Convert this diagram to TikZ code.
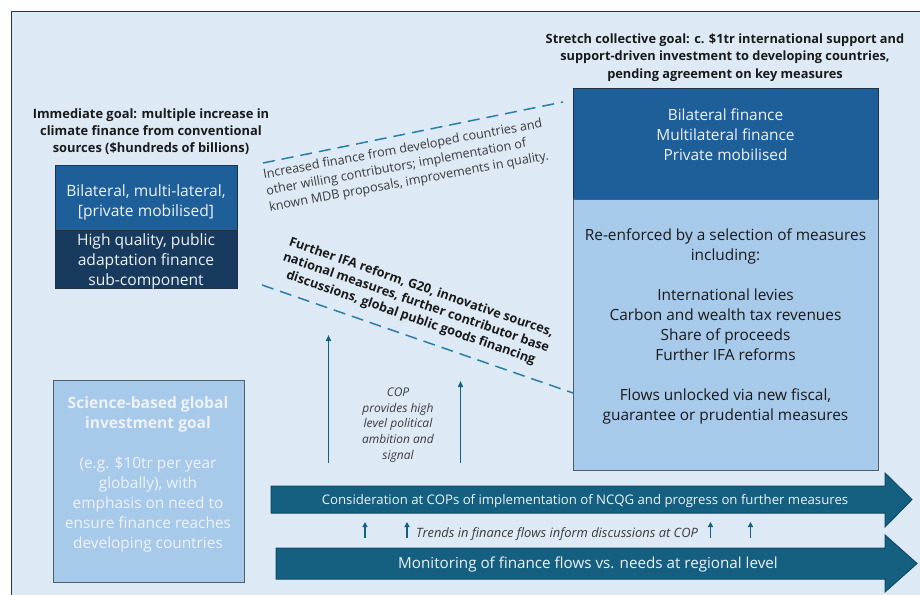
\documentclass[tikz,border=0pt]{standalone}
\usepackage{fontspec}
\setmainfont{Open Sans}
\usetikzlibrary{arrows.meta}
\definecolor{bg}{HTML}{DDEAF6}
\definecolor{frame}{HTML}{1E3A4C}
\definecolor{midblue}{HTML}{1F5F99}
\definecolor{navy}{HTML}{173A5E}
\definecolor{lightb}{HTML}{A7C9EA}
\definecolor{bandc}{HTML}{155F80}
\definecolor{bandline}{HTML}{0F4A66}
\definecolor{dashc}{HTML}{2A7EA6}
\definecolor{boxline}{HTML}{1F3346}
\definecolor{greyline}{HTML}{4F5E6A}
\definecolor{txtgrey}{HTML}{3A3A3A}
\definecolor{txtdark}{HTML}{1A1A1A}
\definecolor{txtwhite}{HTML}{EEF3F9}
\newcommand\fsz[2]{\fontsize{#1}{#2}\selectfont}
\begin{document}
\begin{tikzpicture}[x=1pt,y=-1pt,
  boxn/.style={draw=boxline, line width=1.3, inner sep=0, anchor=north west},
  lbox/.style={boxn, draw=greyline, fill=lightb},
  txt/.style={inner sep=0, align=center},
  dashline/.style={draw=dashc, line width=1.5, dash pattern=on 12pt off 7pt},
  band/.style={fill=bandc, draw=bandline, line width=1},
  uparrow/.style={draw=bandc, line width=1.4, -{Triangle[width=5pt,length=6pt]}},
  smallup/.style={draw=bandc, line width=1.4, -{Triangle[width=5pt,length=5pt]}}
]
\useasboundingbox (0,0) rectangle (920,594);
\clip (0,0) rectangle (920,594);
\fill[white] (0,0) rectangle (920,594);
\draw[fill=bg, draw=frame, line width=1.5] (11.5,11.5) rectangle (940,620);

% titles
\node[txt, text=txtdark, font=\bfseries\fsz{12.9}{17}] (imm) at (151,131.5)
  {Immediate goal: multiple increase in\\climate finance from conventional\\sources (\$hundreds of billions)};
\node[txt, text=txtdark, font=\bfseries\fsz{12.8}{17.5}] (stretch) at (725,57.5)
  {Stretch collective goal: c. \$1tr international support and\\support-driven investment to developing countries,\\pending agreement on key measures};

% left boxes
\node[boxn, fill=midblue, minimum width=182, minimum height=65] (lt) at (55,165) {};
\node[boxn, fill=navy, minimum width=182, minimum height=58] (lb) at (55,230) {};
\node[txt, text=txtwhite, font=\fsz{15.6}{20}] (lttext) at (146,202.5) {Bilateral, multi-lateral,\\{[}private mobilised{]}};
\node[txt, text=txtwhite, font=\fsz{15.6}{20}] (lbtext) at (146,261.5) {High quality, public\\adaptation finance\\sub-component};

% right boxes
\node[boxn, fill=midblue, minimum width=305, minimum height=111] (rt) at (573,88) {};
\node[lbox, minimum width=305, minimum height=271] (rb) at (573,199) {};
\node[txt, text=txtwhite, font=\fsz{15.4}{20}] (rttext) at (725.5,135) {Bilateral finance\\Multilateral finance\\Private mobilised};
\node[txt, text=txtdark, font=\fsz{15.4}{20}] (rbtext) at (725.5,326)
  {Re-enforced by a selection of measures\\including:\\[20pt]International levies\\Carbon and wealth tax revenues\\Share of proceeds\\Further IFA reforms\\[20pt]Flows unlocked via new fiscal,\\guarantee or prudential measures};

% science box
\node[lbox, minimum width=191, minimum height=202] (sci) at (53,380) {};
\node[txt, text=txtwhite, font=\bfseries\fsz{15.6}{20}] (scititle) at (148,414) {Science-based global\\investment goal};
\node[txt, text=txtwhite, font=\fsz{15.4}{20}] (scitext) at (148,504) {(e.g. \$10tr per year\\globally), with\\emphasis on need to\\ensure finance reaches\\developing countries};

% dashed lines
\coordinate (d1a) at (263,163);
\coordinate (d1b) at (563,102);
\coordinate (d2a) at (262,285);
\coordinate (d2b) at (573,393);
\draw[dashline] (d1a) -- (d1b);
\draw[dashline] (d2a) -- (d2b);
\node[inner sep=0, align=left, rotate=10.5, text=txtgrey, font=\fsz{12.6}{16.5}] (inc) at (406,166)
  {Increased finance from developed countries and\\other willing contributors; implementation of\\known MDB proposals, improvements in quality.};
\node[txt, rotate=-19.1, text=txtdark, font=\bfseries\fsz{12.7}{16}] (ifa) at (416,303)
  {Further IFA reform, G20, innovative sources,\\national measures, further contributor base\\discussions, global public goods financing};

% COP arrows
\coordinate (a1s) at (328.5,463);
\coordinate (a1e) at (328.5,335);
\coordinate (a2s) at (460.5,463);
\coordinate (a2e) at (460.5,381);
\draw[uparrow] (a1s) -- (a1e);
\draw[uparrow] (a2s) -- (a2e);
\node[txt, text=txtgrey, font=\itshape\fsz{12}{15.7}] (cop) at (398,425)
  {COP\\provides high\\level political\\ambition and\\signal};

% bands
\draw[band] (271,486) -- (885,486) -- (885,473) -- (912,499.5) -- (885,527) -- (885,513) -- (271,513) -- cycle;
\draw[band] (276,548) -- (885,548) -- (885,535) -- (917,563.5) -- (885,592) -- (885,579) -- (276,579) -- cycle;
\node[txt, text=txtwhite, font=\fsz{13.2}{15}] (cons) at (585,501.5)
  {Consideration at COPs of implementation of NCQG and progress on further measures};
\node[txt, text=txtwhite, font=\fsz{15.2}{17}] (mon) at (588,565)
  {Monitoring of finance flows vs. needs at regional level};

% small arrows
\foreach \xx/\nm in {365/s1,407/s2,710.5/s3,750.5/s4}{
  \coordinate (\nm a) at (\xx,537.5);
  \coordinate (\nm b) at (\xx,522);
  \draw[smallup] (\nm a) -- (\nm b);
}
\node[txt, text=txtgrey, font=\itshape\fsz{12.9}{14}] (trends) at (557,534)
  {Trends in finance flows inform discussions at COP};
\end{tikzpicture}
\end{document}
